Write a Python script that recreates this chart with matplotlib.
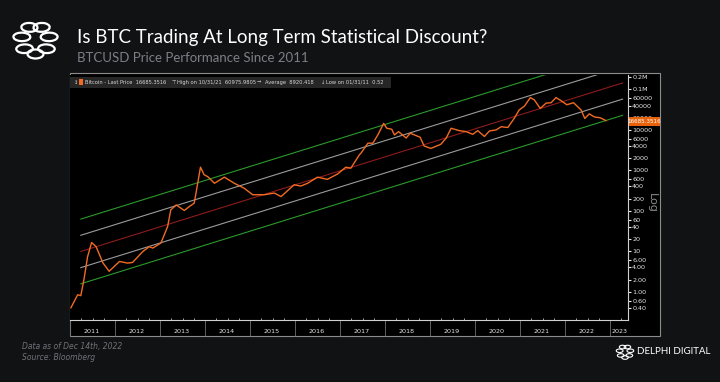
import numpy as np
import matplotlib
matplotlib.use("Agg")
import matplotlib.pyplot as plt
from matplotlib.patches import Rectangle, Ellipse
import matplotlib.transforms as mtransforms

# ---------------- data ----------------
dates = [2011.02, 2011.17, 2011.24, 2011.31, 2011.39, 2011.48, 2011.58, 2011.73, 2011.87,
         2012.10, 2012.28, 2012.39, 2012.62, 2012.76, 2012.84, 2013.02, 2013.17, 2013.24,
         2013.36, 2013.54, 2013.65, 2013.76, 2013.80, 2013.90, 2013.98, 2014.06, 2014.21,
         2014.43, 2014.65, 2014.87, 2015.06, 2015.32, 2015.54, 2015.69, 2015.98, 2016.13,
         2016.28, 2016.50, 2016.72, 2016.95, 2017.13, 2017.24, 2017.43, 2017.47, 2017.62,
         2017.73, 2017.84, 2017.97, 2018.04, 2018.15, 2018.21, 2018.30, 2018.47, 2018.56,
         2018.78, 2018.87, 2019.02, 2019.24, 2019.36, 2019.47, 2019.65, 2019.80, 2019.95,
         2020.06, 2020.21, 2020.32, 2020.47, 2020.58, 2020.73, 2020.87, 2020.98, 2021.10,
         2021.23, 2021.32, 2021.45, 2021.58, 2021.69, 2021.80, 2021.91, 2022.04, 2022.19,
         2022.36, 2022.44, 2022.54, 2022.65, 2022.78, 2022.91]
prices = [0.40, 0.84, 0.80, 2.0, 7.3, 16.5, 13, 5.2, 3.2,
          5.6, 5.1, 5.3, 9.9, 13, 12, 16, 41, 106,
          140, 102, 127, 155, 275, 1200, 780, 700, 480,
          680, 480, 362, 250, 250, 275, 225, 440, 410,
          480, 680, 600, 820, 1200, 1130, 2420, 2700, 4700,
          4700, 7500, 14500, 11000, 10400, 7500, 9100, 6300, 8300,
          6600, 4000, 3500, 4400, 6300, 11000, 9600, 9100, 7800,
          9600, 6900, 9400, 10000, 12000, 11500, 19200, 31000, 39000,
          63000, 55000, 34000, 46000, 47000, 63000, 53000, 42000, 47000,
          31000, 19200, 25000, 21000, 20000, 17000]

band_dates = [2011.24, 2023.28]
band_center = [9.9, 145000]
band_sigma_decades = 0.4
band_levels = [2, 1, 0, -1, -2]
band_colors = ["#2a9a2a", "#9c9c9c", "#8e1c1c", "#9c9c9c", "#2a9a2a"]

ytick_vals = [0.4, 0.6, 1, 2, 4, 6, 10, 20, 40, 60, 100, 200, 400, 600, 1000, 2000,
              4000, 6000, 10000, 20000, 40000, 60000, 100000, 200000]
ytick_labels = ["0.40", "0.60", "1.00", "2.00", "4.00", "6.00", "10", "20", "40", "60",
                "100", "200", "400", "600", "1000", "2000", "4000", "6000", "10000",
                "20000", "40000", "60000", "0.1M", "0.2M"]
years = list(range(2011, 2024))

# ---------------- figure ----------------
W, H = 720, 382
BG = "#111214"
fig = plt.figure(figsize=(W / 100, H / 100), dpi=100, facecolor=BG)

def fx(x):
    return x / W

def fy(y):
    return 1 - y / H

# outer chart frame (behind axes)
fig.patches.append(Rectangle((fx(70), fy(336)), fx(660) - fx(70), fy(73) - fy(336),
                             transform=fig.transFigure, facecolor="black",
                             edgecolor="#8c8c8c", lw=0.8, zorder=-5))

ax = fig.add_axes([fx(70), fy(320), fx(628) - fx(70), fy(75) - fy(320)])
ax.set_zorder(1)
ax.set_facecolor("black")
ax.set_yscale("log")
ax.set_xlim(2011.0, 2023.4)
ax.set_ylim(0.2, 228000)

# bands
bd = np.array(band_dates)
bc = np.array(band_center)
for lev, col in zip(band_levels, band_colors):
    ax.plot(bd, bc * 10 ** (lev * band_sigma_decades), color=col, lw=0.8, zorder=2)

# price line
ax.plot(dates, prices, color="#f26b22", lw=1.0, zorder=3)

# spines
for s in ["top", "left"]:
    ax.spines[s].set_visible(False)
ax.spines["bottom"].set_color("#d0d0d0")
ax.spines["right"].set_color("#d0d0d0")
ax.spines["bottom"].set_linewidth(0.8)
ax.spines["right"].set_linewidth(0.8)

# y axis on right
ax.yaxis.tick_right()
ax.set_yticks(ytick_vals)
ax.set_yticklabels(ytick_labels)
ax.yaxis.set_minor_locator(matplotlib.ticker.NullLocator())
ax.tick_params(axis="y", which="major", direction="out", length=2, width=0.8,
               colors="#e6e6e6", labelsize=4.6, pad=1)

# x axis: long separators at year boundaries, quarter ticks
ax.set_xticks(years)
ax.set_xticklabels([])
ax.tick_params(axis="x", which="major", direction="out", length=11.5, width=0.6,
               color="#6e6e6e")
ax.set_xticks([y + q for y in years[:-1] for q in (0.25, 0.5, 0.75)] + [2023.25], minor=True)
ax.tick_params(axis="x", which="minor", direction="in", length=1.5, width=0.6,
               color="#bdbdbd")
trans = mtransforms.blended_transform_factory(ax.transData, ax.transAxes)
for y in years:
    xl = y + 0.48 if y < 2023 else 2023.22
    ax.text(xl, -0.045, str(y), transform=trans, ha="center", va="center",
            fontsize=4.6, color="#e6e6e6", clip_on=False)

# axis label "Log"
fig.text(fx(652), fy(203), "Log", rotation=270, ha="center", va="center",
         fontsize=8, color="#8a8a8a")

# last price tag
fig.patches.append(Rectangle((fx(629), fy(126)), fx(660) - fx(629), fy(117) - fy(126),
                             transform=fig.transFigure, facecolor="#e8620c",
                             edgecolor="none", zorder=5))
fig.text(fx(644.5), fy(121.5), "16685.3516", ha="center", va="center",
         fontsize=4.1, color="white", zorder=6)

# legend bar
fig.patches.append(Rectangle((fx(70), fy(87.5)), fx(391) - fx(70), fy(76.5) - fy(87.5),
                             transform=fig.transFigure, facecolor="#262626",
                             edgecolor="none", zorder=5))
fig.patches.append(Rectangle((fx(79), fy(85)), fx(83) - fx(79), fy(79) - fy(85),
                             transform=fig.transFigure, facecolor="#f26b22",
                             edgecolor="none", zorder=6))
leg_items = [(73.5, "\u2195"), (85, "Bitcoin - Last Price  16685.3516"),
             (172, "\u22a4"), (177, "High on 10/31/21  60975.9805"),
             (257, "\u2192"), (265, "Average  8920.418"),
             (321, "\u2193"), (326, "Low on 01/31/11  0.52")]
for xp, t in leg_items:
    fig.text(fx(xp), fy(82.2), t, ha="left", va="center", fontsize=3.7,
             color="#d8d8d8", zorder=7)

# titles
fig.text(fx(77), fy(38), "Is BTC Trading At Long Term Statistical Discount?",
         ha="left", va="center", fontsize=13.5, color="white", family="Lato")
fig.text(fx(77), fy(58), "BTCUSD Price Performance Since 2011",
         ha="left", va="center", fontsize=9.5, color="#7b7f86", family="Lato")

# footer
fig.text(fx(22), fy(347), "Data as of Dec 14th, 2022", ha="left", va="center",
         fontsize=5.5, color="#6f7278", style="italic")
fig.text(fx(22), fy(358), "Source: Bloomberg", ha="left", va="center",
         fontsize=5.5, color="#6f7278", style="italic")
fig.text(fx(637), fy(352), "DELPHI DIGITAL", ha="left", va="center",
         fontsize=7, color="white", family="Lato")

# logo helper
def draw_logo(cx, cy, r, ew, eh, lw):
    n = 7
    for k in range(n):
        ang = k * 360 / n + 90
        a = np.deg2rad(ang)
        px = cx + r * np.cos(a)
        py = cy + r * np.sin(a)
        fig.patches.append(Ellipse((fx(px), fy(py)), ew / W, eh / H,
                                   angle=-ang + 90, transform=fig.transFigure,
                                   facecolor="none", edgecolor="white", lw=lw, zorder=8))

draw_logo(35.5, 40, 14, 16, 9, 1.6)
draw_logo(625, 352, 5.5, 6.5, 3.6, 0.8)

fig.savefig("out.png", dpi=100, facecolor=BG)
